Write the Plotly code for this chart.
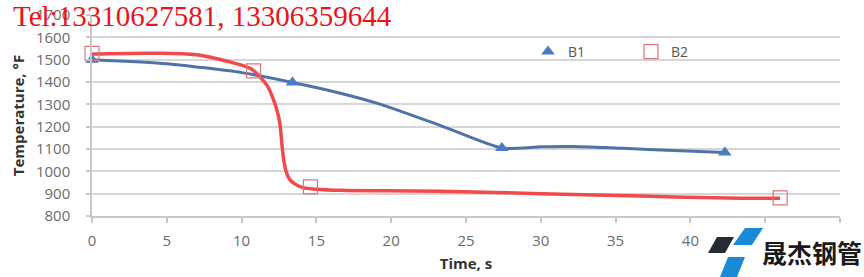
import plotly.graph_objects as go

# ---- data ----
# measured points (markers)
time_b1 = [0, 13.4, 27.4, 42.3]
temp_b1 = [1500, 1398, 1104, 1084]
time_b2 = [0, 10.8, 14.6, 46.0]
temp_b2 = [1528, 1450, 930, 881]
# smoothed trend curves as drawn in the reference
curve_b1_time = [0, 5, 10, 13.4, 16.6, 19.3, 23.3, 27.4, 30, 32.2, 35.5, 38.9, 42.3]
curve_b1_temp = [1500, 1482, 1442, 1398, 1350, 1300, 1205, 1104, 1110, 1111, 1103, 1093, 1084]
curve_b2_time = [0, 4, 7, 9.2, 10.6, 11.2, 11.7, 12.1, 12.45, 12.6, 12.7, 12.82, 12.97, 13.2, 13.55, 14.1,
                 15.0, 16.6, 23.3, 30, 36.7, 43.3, 46.0]
curve_b2_temp = [1525, 1529, 1522, 1490, 1460, 1425, 1385, 1327, 1252, 1192, 1117, 1050, 1000, 965, 944, 927,
                 920, 915, 911, 900, 889, 880, 880]
x_ticks = [0, 5, 10, 15, 20, 25, 30, 35, 40, 45, 50]
y_ticks = [800, 900, 1000, 1100, 1200, 1300, 1400, 1500, 1600, 1700]

W, H = 864, 277
PL, PR, PT, PB = 92, 840, 15, 216  # plot area in pixels


def px(x):
    return (x - PL) / (PR - PL)


def py(y):
    return (PB - y) / (PB - PT)


fig = go.Figure()

fig.add_trace(go.Scatter(x=curve_b1_time, y=curve_b1_temp, mode="lines",
                         line=dict(color="#4e73a7", width=3, shape="spline", smoothing=0.6),
                         showlegend=False, hoverinfo="skip"))
fig.add_trace(go.Scatter(x=curve_b2_time, y=curve_b2_temp, mode="lines",
                         line=dict(color="#f04a4c", width=3.5, shape="spline", smoothing=1.0),
                         showlegend=False, hoverinfo="skip"))
fig.add_trace(go.Scatter(x=time_b1, y=temp_b1, mode="markers", name="B1", cliponaxis=False,
                         marker=dict(symbol="triangle-up", size=12, color="#4a7cc4", line=dict(width=0))))
fig.add_trace(go.Scatter(x=time_b2, y=temp_b2, mode="markers", name="B2", cliponaxis=False,
                         marker=dict(symbol="square-open", size=14, color="#d9777d", line=dict(width=1.2))))

tick_font = dict(family="Open Sans", size=15, color="#6b6b6b")
title_font = dict(family="Open Sans", size=15, color="#333333", weight="bold")

fig.update_layout(
    width=W, height=H,
    margin=dict(l=PL, r=W - PR, t=PT, b=H - PB, autoexpand=False),
    paper_bgcolor="white", plot_bgcolor="white",
    xaxis=dict(range=[0, 50], tickvals=x_ticks, showgrid=False, zeroline=False, automargin=False,
               showline=True, linecolor="#c8c8c8", linewidth=1.5,
               ticks="outside", ticklen=5, tickcolor="#c8c8c8", tickwidth=1.5,
               tickfont=tick_font, ticklabelstandoff=5,
               title=dict(text="Time, s", font=title_font, standoff=10)),
    yaxis=dict(range=[800, 1700], tickvals=y_ticks, showgrid=True, gridcolor="#d6d6d6", gridwidth=1.5,
               zeroline=False, showline=True, linecolor="#c8c8c8", linewidth=1.5, automargin=False,
               ticks="outside", ticklen=4, tickcolor="#c8c8c8", tickwidth=1.5,
               tickfont=tick_font, ticklabelstandoff=13,
               title=dict(text="Temperature, °F", font=title_font, standoff=8)),
    legend=dict(orientation="h", x=px(528), y=py(52), xanchor="left", yanchor="middle",
                font=dict(family="Open Sans", size=14, color="#555555"),
                bgcolor="rgba(0,0,0,0)", entrywidth=58, entrywidthmode="pixels",
                itemclick=False),
)

shapes = [
    dict(type="rect", xref="paper", yref="paper", x0=px(703), x1=px(864), y0=py(226), y1=py(277),
         fillcolor="white", line=dict(width=0), layer="above"),
]


def poly(pts, color):
    d = "M " + " L ".join(f"{px(a):.5f},{py(b):.5f}" for a, b in pts) + " Z"
    return dict(type="path", xref="paper", yref="paper", path=d, fillcolor=color, line=dict(width=0), layer="above")


shapes.append(poly([(717, 237), (734, 237), (725, 253), (708, 253)], "#262b33"))
shapes.append(poly([(745, 228), (763, 228), (752, 245), (733, 245)], "#1b8ad6"))
shapes.append(poly([(728, 257), (745, 257), (737, 277), (720, 277)], "#1b8ad6"))
fig.update_layout(shapes=shapes)

fig.add_annotation(xref="paper", yref="paper", x=px(812), y=py(252), xanchor="center", yanchor="middle",
                   text="晟杰钢管", showarrow=False,
                   font=dict(family="Noto Sans CJK SC", size=25, color="#1a1a1a", weight="bold"))

# watermark
fig.add_annotation(xref="paper", yref="paper", x=px(394), y=py(16), xanchor="right", yanchor="middle",
                   text="Tel:13310627581, 13306359644", showarrow=False,
                   font=dict(family="Liberation Serif", size=29, color="#e8141b"))

fig.write_html("out.html")
